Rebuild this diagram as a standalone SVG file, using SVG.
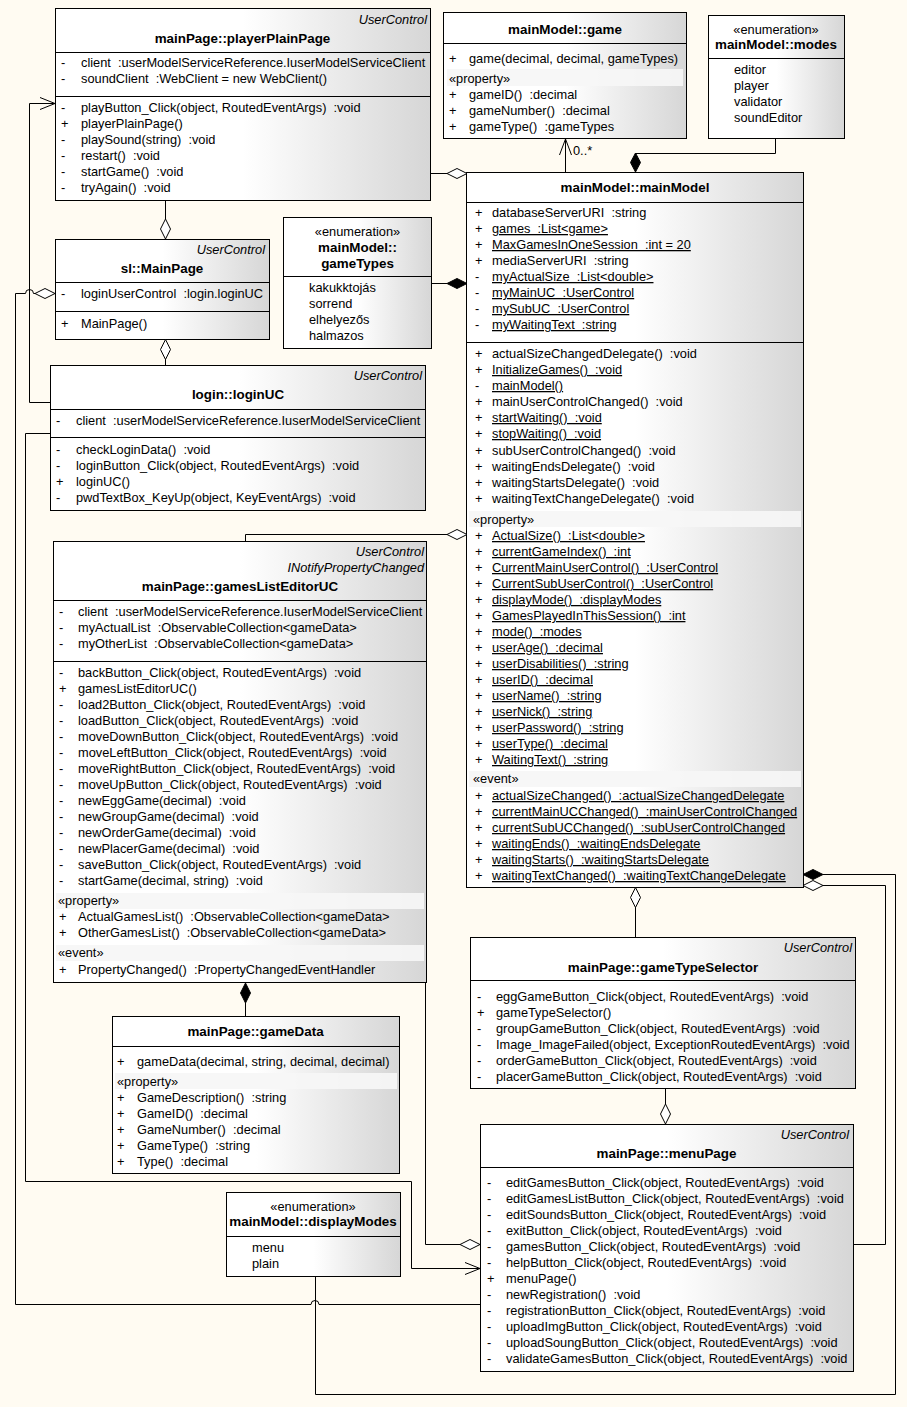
<svg xmlns="http://www.w3.org/2000/svg" width="907" height="1407" viewBox="0 0 907 1407">
<defs>
<linearGradient id="g" x1="0" y1="0" x2="1" y2="0">
<stop offset="0" stop-color="#ffffff"/><stop offset="0.5" stop-color="#ffffff"/><stop offset="1" stop-color="#d6d6d6"/>
</linearGradient>
<style>
.box{fill:url(#g);stroke:#000;stroke-width:1}
.sep{stroke:#000;stroke-width:1}
.band{fill:#f6f6f6;fill-opacity:0.92}
text{font-family:"Liberation Sans",Arial,sans-serif;font-size:12.8px;fill:#000;white-space:pre}
.b{font-weight:bold;text-anchor:middle;font-size:13.4px}
.m{text-anchor:middle}
.it{font-style:italic;text-anchor:end}
.u{text-decoration:underline}
.c path{fill:none;stroke:#000;stroke-width:1}
.c path.ho{fill:#fff}
.c path.fi{fill:#000}
</style>
</defs>
<rect width="907" height="1407" fill="#fffbf2"/>

<g id="playerPlainPage">
<rect class="box" x="55.5" y="8.5" width="375" height="192"/>
<line class="sep" x1="55" y1="52.5" x2="430" y2="52.5"/>
<line class="sep" x1="55" y1="96.5" x2="430" y2="96.5"/>
<text class="it" x="427" y="24">UserControl</text>
<text class="b" x="242.5" y="43">mainPage::playerPlainPage</text>
<text y="67"><tspan x="61">-</tspan><tspan x="81">client  :userModelServiceReference.IuserModelServiceClient</tspan></text>
<text y="83"><tspan x="61">-</tspan><tspan x="81">soundClient  :WebClient = new WebClient()</tspan></text>
<text y="112"><tspan x="61">-</tspan><tspan x="81">playButton_Click(object, RoutedEventArgs)  :void</tspan></text>
<text y="128"><tspan x="61">+</tspan><tspan x="81">playerPlainPage()</tspan></text>
<text y="144"><tspan x="61">-</tspan><tspan x="81">playSound(string)  :void</tspan></text>
<text y="160"><tspan x="61">-</tspan><tspan x="81">restart()  :void</tspan></text>
<text y="176"><tspan x="61">-</tspan><tspan x="81">startGame()  :void</tspan></text>
<text y="192"><tspan x="61">-</tspan><tspan x="81">tryAgain()  :void</tspan></text>
</g>

<g id="game">
<rect class="box" x="443.5" y="12.5" width="243" height="126"/>
<line class="sep" x1="443" y1="43.5" x2="686" y2="43.5"/>
<text class="b" x="565" y="34">mainModel::game</text>
<text y="63"><tspan x="449">+</tspan><tspan x="469">game(decimal, decimal, gameTypes)</tspan></text>
<rect class="band" x="447" y="69" width="236" height="17"/>
<text x="449" y="83">«property»</text>
<text y="99"><tspan x="449">+</tspan><tspan x="469">gameID()  :decimal</tspan></text>
<text y="115"><tspan x="449">+</tspan><tspan x="469">gameNumber()  :decimal</tspan></text>
<text y="131"><tspan x="449">+</tspan><tspan x="469">gameType()  :gameTypes</tspan></text>
</g>

<g id="modes">
<rect class="box" x="708.5" y="15.5" width="136" height="123"/>
<line class="sep" x1="708" y1="58.5" x2="844" y2="58.5"/>
<text class="m" x="776" y="34">«enumeration»</text>
<text class="b" x="776" y="49">mainModel::modes</text>
<text x="734" y="74">editor</text>
<text x="734" y="90">player</text>
<text x="734" y="106">validator</text>
<text x="734" y="122">soundEditor</text>
</g>

<g id="mainModel">
<rect class="box" x="466.5" y="172.5" width="337" height="715"/>
<line class="sep" x1="466" y1="202.5" x2="803" y2="202.5"/>
<line class="sep" x1="466" y1="342.5" x2="804" y2="342.5"/>
<text class="b" x="635" y="192">mainModel::mainModel</text>
<text y="217"><tspan x="475">+</tspan><tspan x="492">databaseServerURI  :string</tspan></text>
<text y="233"><tspan x="475">+</tspan><tspan x="492" class="u">games  :List&lt;game&gt;</tspan></text>
<text y="249"><tspan x="475">+</tspan><tspan x="492" class="u">MaxGamesInOneSession  :int = 20</tspan></text>
<text y="265"><tspan x="475">+</tspan><tspan x="492">mediaServerURI  :string</tspan></text>
<text y="281"><tspan x="475">-</tspan><tspan x="492" class="u">myActualSize  :List&lt;double&gt;</tspan></text>
<text y="297"><tspan x="475">-</tspan><tspan x="492" class="u">myMainUC  :UserControl</tspan></text>
<text y="313"><tspan x="475">-</tspan><tspan x="492" class="u">mySubUC  :UserControl</tspan></text>
<text y="329"><tspan x="475">-</tspan><tspan x="492" class="u">myWaitingText  :string</tspan></text>
<text y="358"><tspan x="475">+</tspan><tspan x="492">actualSizeChangedDelegate()  :void</tspan></text>
<text y="374"><tspan x="475">+</tspan><tspan x="492" class="u">InitializeGames()  :void</tspan></text>
<text y="390"><tspan x="475">-</tspan><tspan x="492" class="u">mainModel()</tspan></text>
<text y="406"><tspan x="475">+</tspan><tspan x="492">mainUserControlChanged()  :void</tspan></text>
<text y="422"><tspan x="475">+</tspan><tspan x="492" class="u">startWaiting()  :void</tspan></text>
<text y="438"><tspan x="475">+</tspan><tspan x="492" class="u">stopWaiting()  :void</tspan></text>
<text y="455"><tspan x="475">+</tspan><tspan x="492">subUserControlChanged()  :void</tspan></text>
<text y="471"><tspan x="475">+</tspan><tspan x="492">waitingEndsDelegate()  :void</tspan></text>
<text y="487"><tspan x="475">+</tspan><tspan x="492">waitingStartsDelegate()  :void</tspan></text>
<text y="503"><tspan x="475">+</tspan><tspan x="492">waitingTextChangeDelegate()  :void</tspan></text>
<rect class="band" x="469" y="511" width="332" height="16"/>
<text x="473" y="524">«property»</text>
<text y="540"><tspan x="475">+</tspan><tspan x="492" class="u">ActualSize()  :List&lt;double&gt;</tspan></text>
<text y="556"><tspan x="475">+</tspan><tspan x="492" class="u">currentGameIndex()  :int</tspan></text>
<text y="572"><tspan x="475">+</tspan><tspan x="492" class="u">CurrentMainUserControl()  :UserControl</tspan></text>
<text y="588"><tspan x="475">+</tspan><tspan x="492" class="u">CurrentSubUserControl()  :UserControl</tspan></text>
<text y="604"><tspan x="475">+</tspan><tspan x="492" class="u">displayMode()  :displayModes</tspan></text>
<text y="620"><tspan x="475">+</tspan><tspan x="492" class="u">GamesPlayedInThisSession()  :int</tspan></text>
<text y="636"><tspan x="475">+</tspan><tspan x="492" class="u">mode()  :modes</tspan></text>
<text y="652"><tspan x="475">+</tspan><tspan x="492" class="u">userAge()  :decimal</tspan></text>
<text y="668"><tspan x="475">+</tspan><tspan x="492" class="u">userDisabilities()  :string</tspan></text>
<text y="684"><tspan x="475">+</tspan><tspan x="492" class="u">userID()  :decimal</tspan></text>
<text y="700"><tspan x="475">+</tspan><tspan x="492" class="u">userName()  :string</tspan></text>
<text y="716"><tspan x="475">+</tspan><tspan x="492" class="u">userNick()  :string</tspan></text>
<text y="732"><tspan x="475">+</tspan><tspan x="492" class="u">userPassword()  :string</tspan></text>
<text y="748"><tspan x="475">+</tspan><tspan x="492" class="u">userType()  :decimal</tspan></text>
<text y="764"><tspan x="475">+</tspan><tspan x="492" class="u">WaitingText()  :string</tspan></text>
<rect class="band" x="469" y="771" width="332" height="16"/>
<text x="473" y="783">«event»</text>
<text y="800"><tspan x="475">+</tspan><tspan x="492" class="u">actualSizeChanged()  :actualSizeChangedDelegate</tspan></text>
<text y="816"><tspan x="475">+</tspan><tspan x="492" class="u">currentMainUCChanged()  :mainUserControlChanged</tspan></text>
<text y="832"><tspan x="475">+</tspan><tspan x="492" class="u">currentSubUCChanged()  :subUserControlChanged</tspan></text>
<text y="848"><tspan x="475">+</tspan><tspan x="492" class="u">waitingEnds()  :waitingEndsDelegate</tspan></text>
<text y="864"><tspan x="475">+</tspan><tspan x="492" class="u">waitingStarts()  :waitingStartsDelegate</tspan></text>
<text y="880"><tspan x="475">+</tspan><tspan x="492" class="u">waitingTextChanged()  :waitingTextChangeDelegate</tspan></text>
</g>

<g id="MainPage">
<rect class="box" x="55.5" y="239.5" width="214" height="100"/>
<line class="sep" x1="55" y1="282.5" x2="269" y2="282.5"/>
<line class="sep" x1="55" y1="311.5" x2="270" y2="311.5"/>
<text class="it" x="265" y="254">UserControl</text>
<text class="b" x="162" y="273">sl::MainPage</text>
<text y="298"><tspan x="61">-</tspan><tspan x="81">loginUserControl  :login.loginUC</tspan></text>
<text y="328"><tspan x="61">+</tspan><tspan x="81">MainPage()</tspan></text>
</g>

<g id="gameTypes">
<rect class="box" x="283.5" y="217.5" width="148" height="131"/>
<line class="sep" x1="283" y1="276.5" x2="431" y2="276.5"/>
<text class="m" x="357.5" y="236">«enumeration»</text>
<text class="b" x="357.5" y="252">mainModel::</text>
<text class="b" x="357.5" y="268">gameTypes</text>
<text x="309" y="292">kakukktojás</text>
<text x="309" y="308">sorrend</text>
<text x="309" y="324">elhelyezős</text>
<text x="309" y="340">halmazos</text>
</g>

<g id="loginUC">
<rect class="box" x="50.5" y="365.5" width="375" height="145"/>
<line class="sep" x1="50" y1="409.5" x2="425" y2="409.5"/>
<line class="sep" x1="50" y1="437.5" x2="426" y2="437.5"/>
<text class="it" x="422" y="380">UserControl</text>
<text class="b" x="238" y="399">login::loginUC</text>
<text y="425"><tspan x="56">-</tspan><tspan x="76">client  :userModelServiceReference.IuserModelServiceClient</tspan></text>
<text y="454"><tspan x="56">-</tspan><tspan x="76">checkLoginData()  :void</tspan></text>
<text y="470"><tspan x="56">-</tspan><tspan x="76">loginButton_Click(object, RoutedEventArgs)  :void</tspan></text>
<text y="486"><tspan x="56">+</tspan><tspan x="76">loginUC()</tspan></text>
<text y="502"><tspan x="56">-</tspan><tspan x="76">pwdTextBox_KeyUp(object, KeyEventArgs)  :void</tspan></text>
</g>

<g id="gamesListEditorUC">
<rect class="box" x="53.5" y="541.5" width="373" height="441"/>
<line class="sep" x1="53" y1="600.5" x2="426" y2="600.5"/>
<line class="sep" x1="53" y1="661.5" x2="427" y2="661.5"/>
<text class="it" x="424" y="556">UserControl</text>
<text class="it" x="424" y="572">INotifyPropertyChanged</text>
<text class="b" x="240" y="591">mainPage::gamesListEditorUC</text>
<text y="616"><tspan x="59">-</tspan><tspan x="78">client  :userModelServiceReference.IuserModelServiceClient</tspan></text>
<text y="632"><tspan x="59">-</tspan><tspan x="78">myActualList  :ObservableCollection&lt;gameData&gt;</tspan></text>
<text y="648"><tspan x="59">-</tspan><tspan x="78">myOtherList  :ObservableCollection&lt;gameData&gt;</tspan></text>
<text y="677"><tspan x="59">-</tspan><tspan x="78">backButton_Click(object, RoutedEventArgs)  :void</tspan></text>
<text y="693"><tspan x="59">+</tspan><tspan x="78">gamesListEditorUC()</tspan></text>
<text y="709"><tspan x="59">-</tspan><tspan x="78">load2Button_Click(object, RoutedEventArgs)  :void</tspan></text>
<text y="725"><tspan x="59">-</tspan><tspan x="78">loadButton_Click(object, RoutedEventArgs)  :void</tspan></text>
<text y="741"><tspan x="59">-</tspan><tspan x="78">moveDownButton_Click(object, RoutedEventArgs)  :void</tspan></text>
<text y="757"><tspan x="59">-</tspan><tspan x="78">moveLeftButton_Click(object, RoutedEventArgs)  :void</tspan></text>
<text y="773"><tspan x="59">-</tspan><tspan x="78">moveRightButton_Click(object, RoutedEventArgs)  :void</tspan></text>
<text y="789"><tspan x="59">-</tspan><tspan x="78">moveUpButton_Click(object, RoutedEventArgs)  :void</tspan></text>
<text y="805"><tspan x="59">-</tspan><tspan x="78">newEggGame(decimal)  :void</tspan></text>
<text y="821"><tspan x="59">-</tspan><tspan x="78">newGroupGame(decimal)  :void</tspan></text>
<text y="837"><tspan x="59">-</tspan><tspan x="78">newOrderGame(decimal)  :void</tspan></text>
<text y="853"><tspan x="59">-</tspan><tspan x="78">newPlacerGame(decimal)  :void</tspan></text>
<text y="869"><tspan x="59">-</tspan><tspan x="78">saveButton_Click(object, RoutedEventArgs)  :void</tspan></text>
<text y="885"><tspan x="59">-</tspan><tspan x="78">startGame(decimal, string)  :void</tspan></text>
<rect class="band" x="56" y="893" width="368" height="16"/>
<text x="58" y="905">«property»</text>
<text y="921"><tspan x="59">+</tspan><tspan x="78">ActualGamesList()  :ObservableCollection&lt;gameData&gt;</tspan></text>
<text y="937"><tspan x="59">+</tspan><tspan x="78">OtherGamesList()  :ObservableCollection&lt;gameData&gt;</tspan></text>
<rect class="band" x="56" y="945" width="368" height="16"/>
<text x="58" y="957">«event»</text>
<text y="974"><tspan x="59">+</tspan><tspan x="78">PropertyChanged()  :PropertyChangedEventHandler</tspan></text>
</g>

<g id="gameData">
<rect class="box" x="112.5" y="1016.5" width="287" height="157"/>
<line class="sep" x1="112" y1="1046.5" x2="399" y2="1046.5"/>
<text class="b" x="255.5" y="1036">mainPage::gameData</text>
<text y="1066"><tspan x="117">+</tspan><tspan x="137">gameData(decimal, string, decimal, decimal)</tspan></text>
<rect class="band" x="115" y="1073" width="282" height="16"/>
<text x="117" y="1086">«property»</text>
<text y="1102"><tspan x="117">+</tspan><tspan x="137">GameDescription()  :string</tspan></text>
<text y="1118"><tspan x="117">+</tspan><tspan x="137">GameID()  :decimal</tspan></text>
<text y="1134"><tspan x="117">+</tspan><tspan x="137">GameNumber()  :decimal</tspan></text>
<text y="1150"><tspan x="117">+</tspan><tspan x="137">GameType()  :string</tspan></text>
<text y="1166"><tspan x="117">+</tspan><tspan x="137">Type()  :decimal</tspan></text>
</g>

<g id="displayModes">
<rect class="box" x="226.5" y="1192.5" width="174" height="84"/>
<line class="sep" x1="226" y1="1236.5" x2="400" y2="1236.5"/>
<text class="m" x="313" y="1211">«enumeration»</text>
<text class="b" x="313" y="1226">mainModel::displayModes</text>
<text x="252" y="1252">menu</text>
<text x="252" y="1268">plain</text>
</g>

<g id="gameTypeSelector">
<rect class="box" x="470.5" y="937.5" width="385" height="151"/>
<line class="sep" x1="470" y1="980.5" x2="855" y2="980.5"/>
<text class="it" x="852" y="952">UserControl</text>
<text class="b" x="663" y="972">mainPage::gameTypeSelector</text>
<text y="1001"><tspan x="477">-</tspan><tspan x="496">eggGameButton_Click(object, RoutedEventArgs)  :void</tspan></text>
<text y="1017"><tspan x="477">+</tspan><tspan x="496">gameTypeSelector()</tspan></text>
<text y="1033"><tspan x="477">-</tspan><tspan x="496">groupGameButton_Click(object, RoutedEventArgs)  :void</tspan></text>
<text y="1049"><tspan x="477">-</tspan><tspan x="496">Image_ImageFailed(object, ExceptionRoutedEventArgs)  :void</tspan></text>
<text y="1065"><tspan x="477">-</tspan><tspan x="496">orderGameButton_Click(object, RoutedEventArgs)  :void</tspan></text>
<text y="1081"><tspan x="477">-</tspan><tspan x="496">placerGameButton_Click(object, RoutedEventArgs)  :void</tspan></text>
</g>

<g id="menuPage">
<rect class="box" x="480.5" y="1124.5" width="373" height="247"/>
<line class="sep" x1="480" y1="1167.5" x2="853" y2="1167.5"/>
<text class="it" x="849" y="1139">UserControl</text>
<text class="b" x="666.5" y="1158">mainPage::menuPage</text>
<text y="1187"><tspan x="487">-</tspan><tspan x="506">editGamesButton_Click(object, RoutedEventArgs)  :void</tspan></text>
<text y="1203"><tspan x="487">-</tspan><tspan x="506">editGamesListButton_Click(object, RoutedEventArgs)  :void</tspan></text>
<text y="1219"><tspan x="487">-</tspan><tspan x="506">editSoundsButton_Click(object, RoutedEventArgs)  :void</tspan></text>
<text y="1235"><tspan x="487">-</tspan><tspan x="506">exitButton_Click(object, RoutedEventArgs)  :void</tspan></text>
<text y="1251"><tspan x="487">-</tspan><tspan x="506">gamesButton_Click(object, RoutedEventArgs)  :void</tspan></text>
<text y="1267"><tspan x="487">-</tspan><tspan x="506">helpButton_Click(object, RoutedEventArgs)  :void</tspan></text>
<text y="1283"><tspan x="487">+</tspan><tspan x="506">menuPage()</tspan></text>
<text y="1299"><tspan x="487">-</tspan><tspan x="506">newRegistration()  :void</tspan></text>
<text y="1315"><tspan x="487">-</tspan><tspan x="506">registrationButton_Click(object, RoutedEventArgs)  :void</tspan></text>
<text y="1331"><tspan x="487">-</tspan><tspan x="506">uploadImgButton_Click(object, RoutedEventArgs)  :void</tspan></text>
<text y="1347"><tspan x="487">-</tspan><tspan x="506">uploadSoungButton_Click(object, RoutedEventArgs)  :void</tspan></text>
<text y="1363"><tspan x="487">-</tspan><tspan x="506">validateGamesButton_Click(object, RoutedEventArgs)  :void</tspan></text>
</g>

<g id="connectors" class="c">
<path d="M50 402.5H29.5V103.5H55"/>
<path d="M40 97.5L55 103.5L40 109.5"/>
<path d="M430 173.5H447"/>
<path class="ho" d="M447 173.5L457 168.5L467 173.5L457 178.5Z"/>
<path d="M165.5 200V219"/>
<path class="ho" d="M165.5 219L170.5 229L165.5 239L160.5 229Z"/>
<path d="M165.5 359V365"/>
<path class="ho" d="M165.5 339.5L170.5 349.5L165.5 359.5L160.5 349.5Z"/>
<path d="M35 293.5H33.5A4 4 0 0 0 25.5 293.5H15.5V1304.5H311A4 4 0 0 1 319 1304.5H480"/>
<path class="ho" d="M55 293.5L45 288.5L35 293.5L45 298.5Z"/>
<path d="M50 433.5H25.5V1181.5H411.5V1268.5H480"/>
<path d="M465 1262.5L480 1268.5L465 1274.5"/>
<path d="M245.5 541V534.5H447"/>
<path class="ho" d="M447 534.5L457 529.5L467 534.5L457 539.5Z"/>
<path d="M425.5 983V1244.5H460"/>
<path class="ho" d="M460 1244.5L470 1239.5L480 1244.5L470 1249.5Z"/>
<path d="M245.5 1003V1016"/>
<path class="fi" d="M245.5 983L250.5 993L245.5 1003L240.5 993Z"/>
<path d="M565.5 172V139"/>
<path d="M559.5 155L565.5 139L571.5 155"/>
<path d="M775.5 138V153.5H635.5"/>
<path class="fi" d="M635.5 153L640.5 162.5L635.5 172L630.5 162.5Z"/>
<path d="M431 283.5H447"/>
<path class="fi" d="M447 283.5L457 278.5L467 283.5L457 288.5Z"/>
<path d="M635.5 907V937"/>
<path class="ho" d="M635.5 887.5L640.5 897.5L635.5 907.5L630.5 897.5Z"/>
<path d="M665.5 1088V1104"/>
<path class="ho" d="M665.5 1104L670.5 1114L665.5 1124L660.5 1114Z"/>
<path d="M315.5 1277V1394.5H895.5V874.5H823"/>
<path class="fi" d="M803 874.5L813 869.5L823 874.5L813 879.5Z"/>
<path d="M853 1244.5H885.5V885.5H823"/>
<path class="ho" d="M803 885.5L813 880.5L823 885.5L813 890.5Z"/>
<text x="573" y="155">0..*</text>
</g>
</svg>
